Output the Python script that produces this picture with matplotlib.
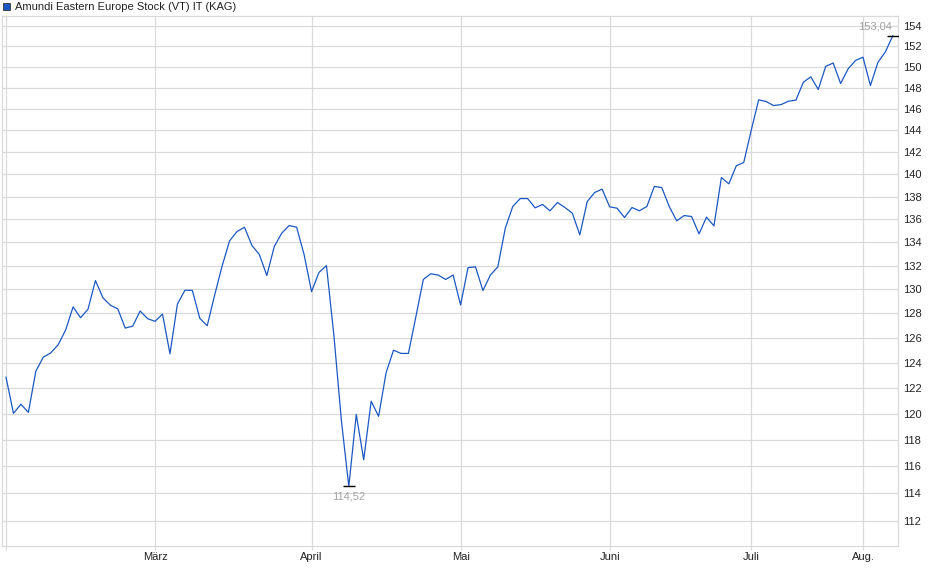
import numpy as np
import matplotlib
matplotlib.use("Agg")
import matplotlib.pyplot as plt
from matplotlib.patches import Rectangle
from matplotlib.ticker import NullLocator, FixedLocator, FixedFormatter

# Kurse (Handelstage Feb - Aug.)
kurs = [
    122.85, 120.03, 120.74, 120.10, 123.33, 124.45, 124.79, 125.45, 126.64, 128.54,
    127.65, 128.34, 130.74, 129.30, 128.68, 128.37, 126.80, 126.96, 128.20, 127.57,
    127.35, 127.95, 124.72, 128.77, 129.92, 129.92, 127.60, 126.99, 129.53, 131.97,
    134.12, 134.93, 135.30, 133.72, 132.94, 131.16, 133.64, 134.78, 135.45, 135.30,
    132.94, 129.81, 131.42, 132.00, 126.20, 119.50, 114.52, 119.95, 116.50, 120.97,
    119.80, 123.20, 125.01, 124.75, 124.75, 127.73, 130.83, 131.31, 131.20, 130.83,
    131.20, 128.70, 131.83, 131.90, 129.90, 131.20, 131.90, 135.22, 137.12, 137.82,
    137.82, 137.00, 137.30, 136.74, 137.47, 137.03, 136.53, 134.64, 137.56, 138.36,
    138.66, 137.09, 136.97, 136.15, 137.03, 136.74, 137.12, 138.90, 138.80, 137.12,
    135.86, 136.32, 136.24, 134.72, 136.18, 135.42, 139.70, 139.13, 140.76, 141.06,
    144.00, 146.86, 146.70, 146.32, 146.41, 146.73, 146.83, 148.54, 149.05, 147.84,
    150.06, 150.38, 148.41, 149.81, 150.63, 150.95, 148.22, 150.44, 151.45, 153.04,
]
tage = np.arange(len(kurs))

monat_pos = [0, 20, 41, 61, 81, 100, 115]
monat_label = ["", "März", "April", "Mai", "Juni", "Juli", "Aug."]
y_ticks = list(range(112, 156, 2))

titel = "Amundi Eastern Europe Stock (VT) IT (KAG)"
blau = "#1b58c2"
grau = "#dadada"


def fmt(v):
    return ("%.2f" % v).replace(".", ",")


def main():
    plt.rcParams["font.family"] = ["Liberation Sans", "DejaVu Sans"]
    fig = plt.figure(figsize=(9.4, 5.79), dpi=100)
    ax = fig.add_axes([2 / 940, 1 - 546 / 579, 896 / 940, 530 / 579])

    ax.plot(tage, kurs, color=blau, lw=0.9, zorder=3)

    ax.set_yscale("log")
    ax.set_ylim(110.21, 155.0)
    ax.set_xlim(-0.54, 119.7)

    ax.yaxis.set_major_locator(FixedLocator(y_ticks))
    ax.yaxis.set_major_formatter(FixedFormatter([str(t) for t in y_ticks]))
    ax.yaxis.set_minor_locator(NullLocator())
    ax.yaxis.tick_right()
    ax.tick_params(axis="y", length=0, pad=3.5, labelsize=8, labelcolor="#222222")

    ax.set_xticks(monat_pos)
    ax.set_xticklabels(monat_label)
    ax.tick_params(axis="x", length=3, width=0.8, color=grau, pad=1.5,
                   labelsize=8, labelcolor="#222222")

    ax.grid(True, color=grau, lw=0.9, zorder=0)
    for s in ax.spines.values():
        s.set_color(grau)
        s.set_linewidth(0.9)

    # Hoch / Tief markieren
    i_max = int(np.argmax(kurs))
    i_min = int(np.argmin(kurs))
    ax.plot(tage[i_max], kurs[i_max], marker="_", ms=9, mew=1, color="black", zorder=4)
    ax.plot(tage[i_min], kurs[i_min], marker="_", ms=9, mew=1, color="black", zorder=4)
    ax.annotate(fmt(kurs[i_max]), (tage[i_max], kurs[i_max]), xytext=(-1, 9),
                textcoords="offset pixels", ha="right", va="center",
                fontsize=8, color="#a3a3a3")
    ax.annotate(fmt(kurs[i_min]), (tage[i_min], kurs[i_min]), xytext=(0, -10),
                textcoords="offset pixels", ha="center", va="center",
                fontsize=8, color="#a3a3a3")

    # Legende oben links
    fig.patches.append(Rectangle((3 / 940, 1 - 10 / 579), 7 / 940, 7 / 579,
                                 transform=fig.transFigure, facecolor=blau,
                                 edgecolor="#333333", lw=0.6))
    fig.text(15 / 940, 1 - 6.5 / 579, titel, fontsize=8, va="center",
             ha="left", color="#222222")

    fig.savefig("out.png", dpi=100)


if __name__ == "__main__":
    main()
